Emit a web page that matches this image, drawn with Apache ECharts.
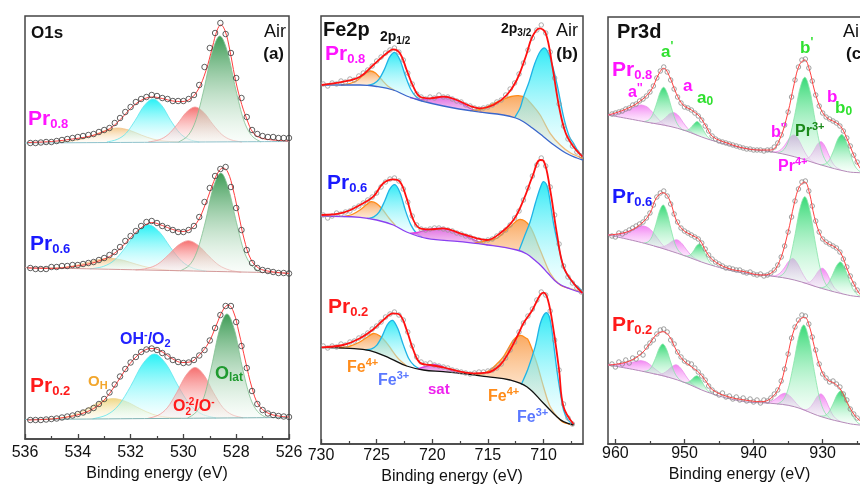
<!DOCTYPE html>
<html>
<head>
<meta charset="utf-8">
<title>XPS O1s / Fe2p / Pr3d</title>
<script src="https://cdn.jsdelivr.net/npm/echarts@6/dist/echarts.min.js"></script>
<style>
  html, body { margin: 0; padding: 0; background: #ffffff; }
  #chart { width: 860px; height: 484px; }
</style>
</head>
<body>
<div id="chart"></div>
<script>
// ---------------- Sample names ----------------
const samples = ['0.8', '0.6', '0.2'];

// ---------------- Tick values ----------------
const o1sMajorTicks = [526, 528, 530, 532, 534, 536];
const o1sMinorTicks = [527, 529, 531, 533, 535];
const fe2pMajorTicks = [710, 715, 720, 725, 730];
const fe2pMinorTicks = [707.5, 712.5, 717.5, 722.5, 727.5];
const pr3dMajorTicks = [930, 940, 950, 960];
const pr3dMinorTicks = [925, 935, 945, 955];

// ---------------- O1s (intensity, a.u., stacked offsets) ----------------
const o1sEnergy = [535.8,535.6,535.4,535.2,535.0,534.8,534.6,534.4,534.2,534.0,533.8,533.6,533.4,533.2,533.0,532.8,532.6,532.4,532.2,532.0,531.8,531.6,531.4,531.2,531.0,530.8,530.6,530.4,530.2,530.0,529.8,529.6,529.4,529.2,529.0,528.8,528.6,528.4,528.2,528.0,527.8,527.6,527.4,527.2,527.0,526.8,526.6,526.4,526.2,526.0];
const o1sPr08 = [296,296,296.5,297,297,298,299,300,301,302,303,304,305,307,309,311,316,321,327,332,337,340,342,344,343,341,340,338,338,338,340,344,354,372,391,406,416,405,386,361,341,322,309,305,303,302,302,301,301,301];
const o1sPr06 = [171,170,170,170,172,172,173,173,174,174,175,176,177,179,181,184,187,192,198,203,208,213,217,218,216,213,211,209,207,207,209,213,222,237,251,263,270,272,252,231,209,189,176,171,169,168,167,166,166,165.5];
const o1sPr02 = [19,19,19,19.5,20,20.5,21.5,22.5,23.5,25,26.5,28.5,31,35,40,46.5,54.5,62.5,70,76.5,82,87,89.5,90.5,89,86,82.5,79,77,76,76.5,79,83.5,89,98.5,111,124,133,133,117,93,71,48,35,29,25.5,24,23,22.5,22];

const o1sFitPr08 = [[535.9,296.5],[535,297.5],[534.2,300],[533.6,302.5],[533.1,306.5],[532.7,312],[532.3,322],[531.9,333],[531.5,340],[531.15,342],[530.8,340.5],[530.4,338],[530.05,337.5],[529.75,340],[529.45,349],[529.15,368],[528.9,392],[528.72,409],[528.58,414],[528.42,408],[528.25,390],[528.05,362],[527.85,340],[527.6,320],[527.35,306],[527.05,301],[526.6,299],[526.0,298]];
const o1sFitPr06 = [[535.9,171],[535,170.5],[534.2,172.5],[533.6,175],[533.1,179],[532.7,184],[532.3,193],[531.9,204],[531.5,213],[531.2,216.5],[530.8,213.5],[530.4,209.5],[530.05,207.5],[529.75,209.5],[529.45,218],[529.15,236],[528.9,254],[528.7,266],[528.5,271],[528.32,267],[528.12,250],[527.92,226],[527.7,200],[527.45,180],[527.15,171],[526.7,167.5],[526.0,165.5]];
const o1sFitPr02 = [[535.9,19],[535,20],[534.4,22],[533.9,25],[533.4,30.5],[533,39],[532.6,53],[532.2,69],[531.8,82],[531.45,89],[531.15,90.5],[530.8,87],[530.4,80],[530.05,76.5],[529.75,77],[529.4,84],[529.05,96],[528.75,114],[528.5,129],[528.3,134],[528.1,127],[527.9,107],[527.65,78],[527.4,51],[527.15,34],[526.8,26],[526.4,23],[526,22]];

const o1sBgPr08 = [[536,296],[526,297.5]];
const o1sBgPr06 = [[536,171.5],[526,166]];
const o1sBgPr02 = [[536,19.5],[526,21.5]];

const o1sPr08OH   = [[534.84,296.5],[534.3,297.9],[533.85,299.9],[533.4,304],[532.95,308.8],[532.5,311],[532.05,308.8],[531.6,304],[531.15,299.9],[530.7,297.9],[530.16,297]];
const o1sPr08OHO2 = [[532.9,297],[532.5,299.7],[532.16,306],[531.83,318.5],[531.49,333.2],[531.15,340],[530.81,333.2],[530.48,318.5],[530.14,306],[529.8,299.7],[529.4,297]];
const o1sPr08O2   = [[531.33,297],[530.92,299.2],[530.58,304.4],[530.24,314.5],[529.9,326.4],[529.56,332],[529.22,326.4],[528.88,314.5],[528.54,304.4],[528.2,299.2],[527.79,297]];
const o1sPr08Olat = [[530.18,297],[529.82,303.6],[529.52,319.3],[529.22,350],[528.92,386.1],[528.62,403],[528.32,386.1],[528.02,350],[527.72,319.3],[527.42,303.6],[527.06,297]];

const o1sPr06OH   = [[535.38,171],[534.78,171.2],[534.28,172.6],[533.78,175.5],[533.28,179],[532.78,180.7],[532.28,178.7],[531.78,174.7],[531.28,171.2],[530.78,169.3],[530.18,168.3]];
const o1sPr06OHO2 = [[533.54,170.1],[533.03,172.6],[532.6,179.1],[532.18,192.1],[531.76,207.2],[531.33,214.2],[530.9,206.8],[530.48,191.2],[530.06,177.7],[529.63,170.8],[529.12,167.7]];
const o1sPr06O2   = [[531.81,169],[531.36,170.7],[530.97,174.9],[530.59,183.5],[530.2,193.7],[529.81,198.3],[529.42,193.3],[529.03,182.7],[528.65,173.7],[528.26,169],[527.81,166.8]];
const o1sPr06Olat = [[530.11,168.2],[529.76,174.2],[529.47,188.6],[529.17,217],[528.88,250.4],[528.58,265.9],[528.29,250.1],[527.99,216.4],[527.7,187.6],[527.4,173],[527.05,166.6]];

const o1sPr02OH   = [[535.26,19.7],[534.66,21.1],[534.16,24.1],[533.66,30.1],[533.16,37.1],[532.66,40.4],[532.16,37.3],[531.66,30.5],[531.16,24.7],[530.66,21.9],[530.06,20.7]];
const o1sPr02OHO2 = [[533.44,20.1],[532.9,24.2],[532.45,33.8],[532.0,52.7],[531.55,74.7],[531.1,85],[530.65,74.8],[530.2,53],[529.75,34.3],[529.3,24.9],[528.76,21]];
const o1sPr02O2   = [[531.38,20.4],[530.96,23.7],[530.61,31.2],[530.26,46.1],[529.91,63.4],[529.56,71.5],[529.21,63.5],[528.86,46.3],[528.51,31.6],[528.16,24.3],[527.74,21.2]];
const o1sPr02Olat = [[529.85,20.8],[529.5,27.4],[529.21,42.7],[528.93,73],[528.64,108.5],[528.35,125],[528.06,108.6],[527.78,73.1],[527.49,43],[527.2,27.8],[526.85,21.3]];

// ---------------- Fe2p ----------------
const fe2pEnergy = [729.8,729.4,729.0,728.6,728.2,727.8,727.4,727.0,726.6,726.2,725.8,725.4,725.0,724.6,724.2,723.8,723.4,723.0,722.6,722.2,721.8,721.4,721.0,720.6,720.2,719.8,719.4,719.0,718.6,718.2,717.8,717.4,717.0,716.6,716.2,715.8,715.4,715.0,714.6,714.2,713.8,713.4,713.0,712.6,712.2,711.8,711.4,711.0,710.6,710.2,709.8,709.4,709.0,708.6,708.2,707.8,707.4,707.0,706.6];
const fe2pPr08 = [360,358,361,360,363,362,365,364,368,371,374,378,383,387,391,394,396,392,384,371,360,350,347,345,347,346,349,347,347,345,343,342,339,338,336,335,336,337,339,342,344,349,355,361,370,381,394,406,414,419,411,392,366,340,318,305,298,292,288];
const fe2pPr06 = [229,226,228,231,230,232,233,236,238,241,244,247,251,257,262,265,266,263,255,242,228,219,215,214,215,216,216,215,214,213,211,210,208,207,205,204,203,204,205,208,211,214,219,226,233,244,256,268,279,286,278,257,229,200,178,167,161,156,152];
const fe2pPr02 = [98,96,98,97,100,99,102,103,106,108,111,115,118,122,127,130,132,129,124,112,98,87,82,80,81,79,78,77,76,74,73,72,71,70,71,72,72,73,74,76,80,86,94,102,112,121,128,135,144,152,149,133,104,74,40,26,20];

const fe2pFitPr08 = [[729.95,359],[728,362.3],[726.5,367.3],[725.3,379],[724.1,390.7],[723.5,394.7],[722.9,390.7],[722.3,374],[721.7,357.3],[721.1,347.3],[720.2,345.7],[719,347.3],[717.8,344],[716.6,338],[715.7,335.7],[714.5,339],[713.3,349],[712.4,364],[711.6,387.3],[711,407.3],[710.35,415.7],[709.8,410.7],[709.2,377.3],[708.6,337.3],[708,310.7],[707.3,297.3],[706.5,287.3]];
const fe2pFitPr06 = [[729.95,229],[728,231.3],[726.5,239],[725.3,247.3],[724.4,260.7],[723.5,264.7],[722.9,262.3],[722.3,245.7],[721.7,224],[721.1,215.7],[720.2,214.7],[719,215.7],[717.5,210.7],[716,205.7],[715.1,204],[713.9,210.7],[712.7,224],[711.8,244],[711,267.3],[710.3,284],[710,283.3],[709.4,254],[708.8,210.7],[708.2,177.3],[707.3,160.7],[706.5,151]];
const fe2pFitPr02 = [[729.95,96.7],[728,99],[726.5,105.7],[725.3,114.7],[724.4,124],[723.5,130.7],[722.9,129],[722.3,114],[721.7,94],[721.1,81.3],[720.2,79],[719,76.7],[717.5,72.3],[716.3,70.7],[715.1,71.3],[713.9,79],[713,94],[712.3,109],[711.8,120.7],[711,134],[710.3,149],[710,151.3],[709.6,144],[709.1,114],[708.6,74],[708.2,37.3],[707.3,20]];

const fe2pBgPr08 = [[730,359],[726.5,359],[725,357.5],[723.5,354],[722.3,348],[721.1,343.5],[719,338],[716,332.3],[713.6,329],[712.5,326],[711.8,322.3],[711,316],[710,307.3],[709,298.5],[708,291],[707,286],[706.45,284]];
const fe2pBgPr06 = [[730,228],[726.5,226.7],[725,224],[723.5,219],[722.3,212],[720.5,205.7],[717.5,202.3],[715,199],[712.4,194],[711.5,190],[710.8,184],[710.2,178],[709.6,170.7],[708.7,160.7],[707.6,155],[706.45,151]];
const fe2pBgPr02 = [[730,96.7],[727.4,95.7],[725.6,93.3],[723.8,85.7],[722.3,78],[720.8,74],[719,72.3],[716.9,70],[715.1,67.3],[713,64],[711.5,57.3],[710,40.7],[708.8,27.3],[708.2,22.3],[707.3,19]];

const fe2pPr08Fe4a = [[728.2,359],[727.4,360.5],[726.7,364],[726.1,370],[725.6,373],[725.1,371],[724.6,365],[724.0,358],[723.4,353.6]];
const fe2pPr08Fe3a = [[725.82,358.7],[725.25,360.4],[724.78,364.8],[724.3,374.6],[723.83,386.8],[723.35,391.5],[722.88,383.5],[722.4,367.7],[721.92,354.5],[721.45,347.2],[720.88,342.9]];
const fe2pPr08Sat  = [[722.0,346.5],[721.2,344.5],[720.5,345],[719.7,346.5],[718.85,347.3],[718.0,345],[717.3,340.5],[716.5,335],[715.5,331.7]];
const fe2pPr08Fe4b = [[716.6,333.4],[715.6,334.5],[714.8,339],[713.6,344.7],[712.9,347.5],[712.25,348.3],[711.6,346],[711.0,339],[710.3,329],[709.4,310.7],[708.5,299],[707.6,291.3],[706.45,285.5]];
const fe2pPr08Fe3b = [[712.6,326.3],[712.1,336],[711.8,347],[711.3,362],[710.8,380],[710.3,392.5],[709.85,395.7],[709.4,386],[708.8,360.7],[708.2,327.3],[707.7,308],[707.3,300.7],[706.9,293],[706.45,287.3]];

const fe2pPr06Fe4a = [[727.9,227.5],[727.2,229.5],[726.5,234],[725.9,239.5],[725.5,242.3],[725.0,240.5],[724.5,235],[723.9,226],[723.3,218.3]];
const fe2pPr06Fe3a = [[725.82,225.5],[725.25,227.1],[724.78,231.8],[724.3,242.3],[723.83,254.7],[723.35,259.3],[722.88,250.8],[722.4,233.1],[721.92,219.1],[721.45,211.3],[720.88,206.6]];
const fe2pPr06Sat  = [[722.0,210.7],[721.3,211.5],[720.5,214],[719.7,215.5],[719.0,215.7],[718.2,213.5],[717.5,210.5],[716.6,206],[715.7,201.5],[715.0,199]];
const fe2pPr06Fe4b = [[716.2,200.9],[715.2,203],[714.2,205.7],[713.0,217.3],[712.1,224.7],[711.2,217.3],[710.3,194],[709.4,170.7],[708.5,159],[707.6,155.5],[706.45,151.5]];
const fe2pPr06Fe3b = [[712.2,193.5],[711.7,208],[711.2,222.3],[710.7,242],[710.3,256],[710.0,262.3],[709.6,255],[709.1,220.7],[708.6,195],[708.2,177.3],[707.7,166],[707.3,160.7],[706.9,157],[706.45,152.5]];

const fe2pPr02Fe4a = [[728.5,96.1],[727.5,97.5],[726.6,101.5],[725.9,106.5],[725.3,110.5],[724.7,108],[724.2,102.5],[723.7,95],[723.1,86],[722.3,78]];
const fe2pPr02Fe3a = [[726.02,94.3],[725.45,95.2],[724.98,98.8],[724.5,107.9],[724.03,119.4],[723.55,123.6],[723.08,114.9],[722.6,99.1],[722.13,85.7],[721.65,78.7],[721.08,74.8]];
const fe2pPr02Sat  = [[721.3,75.3],[720.6,77.5],[719.8,79.5],[719.0,77],[718.2,73],[717.6,70.8]];
const fe2pPr02Fe4b = [[716.6,69.6],[715.5,70.5],[714.8,74],[714.2,80],[713.6,87.3],[712.7,104],[712.1,108.5],[711.6,106],[711.3,102.3],[710.6,80.7],[710.0,57.3],[709.4,37.3],[708.5,24],[707.9,20.5],[707.3,19]];
const fe2pPr02Fe3b = [[712.0,59.5],[711.4,75],[710.75,97.3],[710.3,120],[709.85,130.7],[709.5,128],[709.25,114],[708.8,74],[708.5,52],[708.2,34],[707.8,24],[707.3,19]];

// ---------------- Pr3d ----------------
const pr3dEnergy = [960.5,960.0,959.5,959.0,958.5,958.0,957.5,957.0,956.5,956.0,955.5,955.0,954.5,954.0,953.5,953.0,952.5,952.0,951.5,951.0,950.5,950.0,949.5,949.0,948.5,948.0,947.5,947.0,946.5,946.0,945.5,945.0,944.5,944.0,943.5,943.0,942.5,942.0,941.5,941.0,940.5,940.0,939.5,939.0,938.5,938.0,937.5,937.0,936.5,936.0,935.5,935.0,934.5,934.0,933.5,933.0,932.5,932.0,931.5,931.0,930.5,930.0,929.5,929.0,928.5,928.0,927.5,927.0,926.5,926.0,925.5,925.0];
const pr3dPr08 = [330,331,332,333,335,336,339,340,343,345,348,352,358,366,373,377,372,364,355,347,341,337,336,334,331,328,324,318,313,308,305,303,302,301,300,299,298,297,296,295,295,294,294,294,293,294,294,297,301,309,319,332,347,364,377,384,385,376,363,349,338,331,327,325,323,321,318,313,306,298,289,282];
const pr3dPr06 = [208,207,211,210,212,214,216,218,220,222,226,231,239,247,251,253,248,240,230,222,216,213,211,209,207,205,201,195,189,185,182,180,178,176,176,175,174,174,172,171,172,170,169,170,168,169,171,174,179,187,198,212,227,243,255,262,263,253,238,223,212,205,202,200,198,196,192,185,177,168,160,154];
const pr3dPr02 = [80,77,82,80,84,81,86,85,91,89,97,101,104,110,114,115,112,104,100,92,87,83,81,80,76,72,68,64,58,54,51,49,51,47,48,45,47,44,46,43,45,42,44,41,44,43,46,50,54,63,75,90,106,117,124,129,128,120,107,94,80,70,66,62,63,60,57,50,44,35,30,26];

const pr3dFitPr08 = [[961,329],[958.2,335.7],[956.2,344],[954.8,354],[953.8,369],[953,375.7],[952.15,367.3],[951.2,350.7],[950.2,339],[949,334],[947.8,327.3],[946.85,317.3],[945.9,307.3],[943.7,300.7],[941.3,295.7],[938.9,294],[937.5,294],[936.26,304],[935.05,330.7],[934.1,360.7],[933.37,379],[932.6,384],[931.9,374],[931.2,354],[930.2,334],[929.28,325.7],[928.3,322.3],[927.35,317.3],[926.4,304],[925.4,287.3],[924.7,277.3],[923.5,266]];
const pr3dFitPr06 = [[961,209],[958.2,212.3],[956.2,220.7],[955,230.7],[954.1,245.7],[953.1,251.3],[952.15,244],[951.2,224],[950.2,214],[949,209],[947.8,204],[946.85,192.3],[945.9,184],[943.7,175.7],[941.3,172.3],[938.9,169],[937.5,170.7],[936.26,182.3],[935.05,210.7],[934.1,240.7],[933.37,257.3],[932.6,262],[931.9,250.7],[931.2,227.3],[930.2,207.3],[929.3,200.7],[928.3,197.3],[927.35,190.7],[926.4,174],[925.4,159],[924.7,150.7],[923.5,142]];
const pr3dFitPr02 = [[961,79],[958.2,82.3],[956.2,90.7],[955,100.7],[954.1,109],[953.1,112.3],[952.15,107.3],[951.2,94],[950.2,84],[949,77.3],[947.8,70.7],[946.85,62.3],[945.9,54],[943.7,47.3],[941.3,44],[938.9,42.3],[937.5,45.7],[936.26,57.3],[935.3,80.7],[934.3,110.7],[933.37,124],[932.6,126.7],[931.9,117.3],[931.2,97.3],[930.2,74],[929.3,64],[928.3,60.7],[927.35,54],[926.4,40.7],[925.4,29],[924.7,24],[923.5,17]];

const pr3dBgPr08 = [[961.07,329],[955.8,322.3],[951,315.7],[946.2,304],[941.3,295.7],[937.5,292.3],[934.1,287.3],[930.2,279],[926.4,272.3],[924.7,271.3],[923,270.5]];
const pr3dBgPr06 = [[961.07,209],[955.8,200.7],[951,190.7],[946.2,179],[941.3,170.7],[937.5,168],[934.1,164],[930.2,155.7],[926.4,149],[924.7,147.3],[923,146.5]];
const pr3dBgPr02 = [[961.07,79],[955.8,72.3],[951,64],[946.2,50.7],[941.3,42.3],[937.5,40.7],[934.1,37.3],[930.2,27.3],[926.4,20.7],[924.7,19],[923,18.2]];

const pr3dPr08A2 = [[961.07,329],[959.8,330.5],[958.6,333],[957.4,336.5],[956.7,338.5],[956.2,339],[955.4,337],[954.6,331.5],[953.6,323.5],[952.6,318]];
const pr3dPr08A1 = [[955.86,322.3],[955.2,323.9],[954.65,328.7],[954.1,339],[953.55,351.3],[953.0,356.7],[952.45,350],[951.9,336.6],[951.35,324.7],[950.8,317.6],[950.14,313.6]];
const pr3dPr08A  = [[954.85,320.8],[954.07,320.9],[953.42,322.6],[952.77,326.1],[952.12,330.3],[951.47,331.2],[950.82,327.9],[950.17,321.3],[949.52,315.4],[948.87,311.5],[948.09,308.6]];
const pr3dPr08A0 = [[950.27,314],[949.77,313.7],[949.35,314.6],[948.92,317.6],[948.5,321.1],[948.07,322.3],[947.64,319],[947.22,313.4],[946.79,308.3],[946.37,305.3],[945.87,303.4]];
const pr3dPr08B2 = [[937.35,292.1],[936.6,292.4],[935.98,294.7],[935.35,300.1],[934.73,306.5],[934.1,309],[933.48,304.3],[932.85,295.5],[932.23,287.9],[931.6,283.4],[930.85,280.4]];
const pr3dPr08B1 = [[936.45,291],[935.55,294.8],[934.8,305.9],[934.05,328.6],[933.3,355.1],[932.55,366.7],[931.8,351.9],[931.05,322.2],[930.3,296.6],[929.55,283],[928.65,276.2]];
const pr3dPr08B  = [[933.06,285.3],[932.4,285.2],[931.85,287.4],[931.3,293],[930.75,299.8],[930.2,302.3],[929.65,297.6],[929.1,288.8],[928.55,281],[928.0,276.6],[927.34,274]];
const pr3dPr08B0 = [[930.32,279.2],[929.6,280.2],[929.0,284.4],[928.4,293.7],[927.8,304.9],[927.2,309.5],[926.6,302.7],[926.0,289.9],[925.4,279],[924.8,273.5],[924.08,271]];

const pr3dPr06A2 = [[961.07,209],[959.8,209.5],[958.6,211.5],[957.4,215],[956.6,217.5],[955.9,218],[955.1,215.5],[954.3,209.5],[953.4,201],[952.4,193.6]];
const pr3dPr06A1 = [[955.91,200.9],[955.25,202.3],[954.7,207.6],[954.15,219.3],[953.6,233.1],[953.05,239],[952.5,230.9],[951.95,214.7],[951.4,200.7],[950.85,193.1],[950.19,188.7]];
const pr3dPr06A  = [[954.38,197.7],[953.6,196.9],[952.95,197.6],[952.3,200.1],[951.65,203.3],[951.0,204],[950.35,200.3],[949.7,194.2],[949.05,188.8],[948.4,185.2],[947.62,182.5]];
const pr3dPr06A0 = [[950.0,188.2],[949.5,188.1],[949.08,189.6],[948.65,193.5],[948.23,198.3],[947.8,200],[947.37,196.2],[946.95,189.4],[946.52,183.4],[946.1,179.9],[945.6,178]];
const pr3dPr06B2 = [[937.55,168.1],[936.8,168.4],[936.18,170.8],[935.55,176.1],[934.93,182.5],[934.3,185.5],[933.68,180.9],[933.05,172.4],[932.43,164.9],[931.8,160.4],[931.05,157.5]];
const pr3dPr06B1 = [[936.45,166.8],[935.55,171.2],[934.8,183],[934.05,207.2],[933.3,235.1],[932.55,247.3],[931.8,231.9],[931.05,200.8],[930.3,174.1],[929.55,159.9],[928.65,153]];
const pr3dPr06B  = [[932.86,161.3],[932.2,161.2],[931.65,163],[931.1,167.8],[930.55,173.6],[930.0,175.7],[929.45,171.6],[928.9,163.6],[928.35,156.7],[927.8,152.8],[927.14,150.3]];
const pr3dPr06B0 = [[930.52,156.3],[929.8,156.9],[929.2,160.5],[928.6,168.5],[928.0,178],[927.4,182],[926.8,175.9],[926.2,164.4],[925.6,154.8],[925.0,149.5],[924.28,147.1]];

const pr3dPr02A2 = [[961.07,79],[959.8,79.6],[958.6,80.5],[957.4,82],[956.7,83],[956.2,83.3],[955.4,81.5],[954.6,77],[953.6,71.5],[952.4,66.4]];
const pr3dPr02A1 = [[955.96,72.6],[955.3,73.4],[954.75,77.3],[954.2,85.7],[953.65,95.8],[953.1,100],[952.55,93.9],[952.0,81.9],[951.45,71.6],[950.9,65.7],[950.24,62]];
const pr3dPr02A  = [[954.48,70],[953.7,69.6],[953.05,70.7],[952.4,73.8],[951.75,77.7],[951.1,79],[950.45,74.9],[949.8,68.1],[949.15,62],[948.5,58],[947.72,54.9]];
const pr3dPr02A0 = [[950.3,62.1],[949.8,61.5],[949.38,62.1],[948.95,64.4],[948.53,67.3],[948.1,68],[947.67,64.9],[947.25,59.6],[946.82,54.9],[946.4,52],[945.9,50.2]];
const pr3dPr02B2 = [[938.65,41.2],[937.9,41.7],[937.28,43],[936.65,45.9],[936.03,49.4],[935.4,50.7],[934.78,48.2],[934.15,43.4],[933.53,38.3],[932.9,35],[932.15,32.3]];
const pr3dPr02B1 = [[936.6,39.8],[935.7,44.2],[934.95,56.1],[934.2,80.2],[933.45,107.3],[932.7,119],[931.95,103.5],[931.2,72.6],[930.45,45.9],[929.7,31.7],[928.8,24.8]];
const pr3dPr02B  = [[933.06,34.6],[932.4,34.3],[931.85,36.3],[931.3,41.5],[930.75,47.8],[930.2,50],[929.65,45.4],[929.1,36.8],[928.55,29.2],[928.0,24.9],[927.34,22.3]];
const pr3dPr02B0 = [[930.42,28],[929.7,28.3],[929.1,31.9],[928.5,39.9],[927.9,49.4],[927.3,53.3],[926.7,47.3],[926.1,35.9],[925.5,26.3],[924.9,21.1],[924.18,18.8]];

// ---------------- Styling ----------------
const FONT = "'Liberation Sans', Arial, Helvetica, sans-serif";
const MAG = '#ff14ff', BLUE = '#1a1aff', RED = '#ff1a1a';
const LIME = '#2fe02f', DKGREEN = '#1a8a1a';

const FILLS = {
  oh:     { top: 'rgba(243,192,122,0.85)', bottom: 'rgba(255,248,235,0.35)', stroke: '#f1c489', lw: 0.8 },
  ohY:    { top: 'rgba(236,208,112,0.85)', bottom: 'rgba(255,250,230,0.35)', stroke: '#eed38a', lw: 0.8 },
  oCyan:  { top: 'rgba(20,240,245,0.92)', bottom: 'rgba(235,255,255,0.35)', stroke: '#5fe4ec', lw: 0.8 },
  oRed:   { top: 'rgba(244,92,92,0.88)', bottom: 'rgba(255,235,235,0.35)', stroke: '#f29a9a', lw: 0.8 },
  oGreen: { top: 'rgba(46,148,72,0.92)', bottom: 'rgba(240,250,242,0.35)', stroke: '#7fbf8f', lw: 0.8 },
  fOrange:{ top: 'rgba(249,160,80,0.9)', bottom: 'rgba(255,240,224,0.4)', stroke: '#ff8c1a', lw: 1.3 },
  fCyan:  { top: 'rgba(30,232,245,0.92)', bottom: 'rgba(232,255,255,0.35)', stroke: '#1eb4e6', lw: 1.3 },
  fMag:   { top: 'rgba(222,96,222,0.92)', bottom: 'rgba(240,185,240,0.7)', stroke: '#e040e0', lw: 1.3 },
  pGreen: { top: 'rgba(34,214,104,0.9)', bottom: 'rgba(235,255,242,0.3)', stroke: '#86e4a8', lw: 0.8 },
  pMag:   { top: 'rgba(240,112,240,0.85)', bottom: 'rgba(255,232,255,0.35)', stroke: '#eb90eb', lw: 0.8 }
};

const zip = (xs, ys) => ys.map((y, i) => [xs[i], y]);

// ---------------- Spectra per panel ----------------
const o1sSpectra = [
  { values: o1sPr08, fit: o1sFitPr08, bg: o1sBgPr08, bgColor: '#8fc2cc',
    comps: [[o1sPr08OH, 'oh'], [o1sPr08OHO2, 'oCyan'], [o1sPr08O2, 'oRed'], [o1sPr08Olat, 'oGreen']] },
  { values: o1sPr06, fit: o1sFitPr06, bg: o1sBgPr06, bgColor: '#d49a9a',
    comps: [[o1sPr06OH, 'oh'], [o1sPr06OHO2, 'oCyan'], [o1sPr06O2, 'oRed'], [o1sPr06Olat, 'oGreen']] },
  { values: o1sPr02, fit: o1sFitPr02, bg: o1sBgPr02, bgColor: '#7fb2b2',
    comps: [[o1sPr02OH, 'ohY'], [o1sPr02OHO2, 'oCyan'], [o1sPr02O2, 'oRed'], [o1sPr02Olat, 'oGreen']] }
];
const fe2pSpectra = [
  { values: fe2pPr08, fit: fe2pFitPr08, bg: fe2pBgPr08, bgColor: '#3a66cc',
    comps: [[fe2pPr08Fe4a, 'fOrange'], [fe2pPr08Fe3a, 'fCyan'], [fe2pPr08Sat, 'fMag'], [fe2pPr08Fe4b, 'fOrange'], [fe2pPr08Fe3b, 'fCyan']] },
  { values: fe2pPr06, fit: fe2pFitPr06, bg: fe2pBgPr06, bgColor: '#8a40f0',
    comps: [[fe2pPr06Fe4a, 'fOrange'], [fe2pPr06Fe3a, 'fCyan'], [fe2pPr06Sat, 'fMag'], [fe2pPr06Fe4b, 'fOrange'], [fe2pPr06Fe3b, 'fCyan']] },
  { values: fe2pPr02, fit: fe2pFitPr02, bg: fe2pBgPr02, bgColor: '#111111',
    comps: [[fe2pPr02Fe4a, 'fOrange'], [fe2pPr02Fe3a, 'fCyan'], [fe2pPr02Sat, 'fMag'], [fe2pPr02Fe4b, 'fOrange'], [fe2pPr02Fe3b, 'fCyan']] }
];
const pr3dSpectra = [
  { values: pr3dPr08, fit: pr3dFitPr08, bg: pr3dBgPr08, bgColor: '#b48ab8',
    comps: [[pr3dPr08A2, 'pMag'], [pr3dPr08A, 'pMag'], [pr3dPr08B2, 'pMag'], [pr3dPr08B, 'pMag'],
            [pr3dPr08A1, 'pGreen'], [pr3dPr08A0, 'pGreen'], [pr3dPr08B1, 'pGreen'], [pr3dPr08B0, 'pGreen']] },
  { values: pr3dPr06, fit: pr3dFitPr06, bg: pr3dBgPr06, bgColor: '#b48ab8',
    comps: [[pr3dPr06A2, 'pMag'], [pr3dPr06A, 'pMag'], [pr3dPr06B2, 'pMag'], [pr3dPr06B, 'pMag'],
            [pr3dPr06A1, 'pGreen'], [pr3dPr06A0, 'pGreen'], [pr3dPr06B1, 'pGreen'], [pr3dPr06B0, 'pGreen']] },
  { values: pr3dPr02, fit: pr3dFitPr02, bg: pr3dBgPr02, bgColor: '#b48ab8',
    comps: [[pr3dPr02A2, 'pMag'], [pr3dPr02A, 'pMag'], [pr3dPr02B2, 'pMag'], [pr3dPr02B, 'pMag'],
            [pr3dPr02A1, 'pGreen'], [pr3dPr02A0, 'pGreen'], [pr3dPr02B1, 'pGreen'], [pr3dPr02B0, 'pGreen']] }
];

// Catmull-Rom spline through pixel points, as SVG path commands
function splinePath(pts) {
  let d = 'M' + pts[0][0] + ' ' + pts[0][1];
  for (let i = 0; i < pts.length - 1; i++) {
    const p0 = pts[i - 1] || pts[i], p1 = pts[i], p2 = pts[i + 1], p3 = pts[i + 2] || pts[i + 1];
    const c1x = p1[0] + (p2[0] - p0[0]) / 6, c1y = p1[1] + (p2[1] - p0[1]) / 6;
    const c2x = p2[0] - (p3[0] - p1[0]) / 6, c2y = p2[1] - (p3[1] - p1[1]) / 6;
    d += ' C' + c1x + ' ' + c1y + ' ' + c2x + ' ' + c2y + ' ' + p2[0] + ' ' + p2[1];
  }
  return d;
}

// Fitted peak components: area between the peak curve and the spectrum background
function componentSeries(ax, spectra) {
  const comps = [];
  spectra.forEach(s => s.comps.forEach(([pts, key]) => comps.push({ pts, bg: s.bg, look: FILLS[key] })));
  return {
    type: 'custom', xAxisIndex: ax, yAxisIndex: ax / 2, z: 2, clip: true, silent: true,
    data: comps.map(c => c.pts[0]),
    renderItem: (params, api) => {
      const c = comps[params.dataIndex];
      const top = c.pts.map(p => api.coord(p));
      const eHigh = c.pts[0][0], eLow = c.pts[c.pts.length - 1][0];
      const under = c.bg.filter(p => p[0] < eHigh && p[0] > eLow).map(p => api.coord(p)).reverse();
      const curve = splinePath(top);
      let area = curve;
      under.forEach(p => { area += ' L' + p[0] + ' ' + p[1]; });
      area += ' Z';
      return {
        type: 'group',
        children: [
          { type: 'path', shape: { pathData: area }, style: {
              fill: new echarts.graphic.LinearGradient(0, 0, 0, 1, [
                { offset: 0, color: c.look.top }, { offset: 1, color: c.look.bottom }]),
              stroke: 'none' } },
          { type: 'path', shape: { pathData: curve }, style: {
              fill: 'none', stroke: c.look.stroke, lineWidth: c.look.lw } }
        ]
      };
    }
  };
}

function spectrumSeries(ax, energy, spectra, look) {
  const out = [componentSeries(ax, spectra)];
  spectra.forEach(s => {
    out.push({ type: 'line', xAxisIndex: ax, yAxisIndex: ax / 2, data: s.bg, smooth: 0.4, showSymbol: false,
      silent: true, z: 3, lineStyle: { color: s.bgColor, width: look.bgWidth } });
    out.push({ type: 'scatter', xAxisIndex: ax, yAxisIndex: ax / 2, data: zip(energy, s.values), silent: true,
      symbol: 'circle', symbolSize: look.dotSize, z: look.dotZ,
      itemStyle: { color: 'rgba(255,255,255,0)', borderColor: look.dotColor, borderWidth: look.dotWidth } });
    out.push({ type: 'line', xAxisIndex: ax, yAxisIndex: ax / 2, data: s.fit, smooth: 0.4, showSymbol: false,
      silent: true, z: look.fitZ, lineStyle: { color: look.fitColor, width: look.fitWidth } });
  });
  return out;
}

function xAxesFor(grid, min, max, major, minor, labelMargin, nameGap) {
  return [{
    type: 'value', gridIndex: grid, min, max, inverse: true, position: 'bottom',
    axisLine: { show: true, onZero: false, lineStyle: { color: '#444', width: 1.5 } },
    axisTick: { show: true, inside: true, length: 5, customValues: major, lineStyle: { color: '#444', width: 1.3 } },
    axisLabel: { show: true, customValues: major, margin: labelMargin, fontSize: 16, color: '#111', fontFamily: FONT },
    splitLine: { show: false },
    name: 'Binding energy (eV)', nameLocation: 'middle', nameGap,
    nameTextStyle: { fontSize: 16, color: '#111', fontFamily: FONT }
  }, {
    type: 'value', gridIndex: grid, min, max, inverse: true, position: 'bottom',
    axisLine: { show: false, onZero: false },
    axisTick: { show: true, inside: true, length: 3, customValues: minor, lineStyle: { color: '#444', width: 1.2 } },
    axisLabel: { show: false }, splitLine: { show: false }
  }];
}

// ---------------- Text annotations ----------------
const sub = (size, shift) => ({ fontSize: size, fontWeight: 'bold', fontFamily: FONT, padding: [shift * 2, 0, 0, 0] });
const sup = (size, shift) => ({ fontSize: size, fontWeight: 'bold', fontFamily: FONT, padding: [0, 0, shift * 2, 0] });

function text(x, y, str, o) {
  o = o || {};
  return { type: 'text', x, y, z: 100, silent: true, style: {
    text: str, fill: o.color || '#111', fontFamily: FONT, fontSize: o.size || 16,
    fontWeight: o.weight || 'bold', align: o.align || 'left', verticalAlign: 'middle', rich: o.rich || {} } };
}
const prRich = { s: sub(13, 5) };
const prText = (x, y, name, color) => text(x, y, 'Pr{s|' + name + '}', { size: 21, color, rich: prRich });

const labels = [
  // O1s
  text(31, 33, 'O1s', { size: 17 }),
  text(286, 32, 'Air', { size: 18, weight: 'normal', align: 'right' }),
  text(284, 54, '(a)', { size: 17, align: 'right' }),
  prText(28, 119, samples[0], MAG),
  prText(30, 244, samples[1], BLUE),
  prText(30, 386, samples[2], RED),
  text(88, 382, 'O{s|H}', { size: 15, color: '#f2a62c', rich: { s: sub(11, 4) } }),
  text(120, 340, 'OH{p|-}/O{s|2}', { size: 16, color: '#2222ff', rich: { p: sup(11, 5), s: sub(11, 4) } }),
  text(173, 407, 'O{s|2}{p|-2}/O{p|-}', { size: 16, color: RED,
    rich: { s: { fontSize: 10, fontWeight: 'bold', fontFamily: FONT, padding: [10, -5.6, 0, 0] }, p: sup(10, 5) } }),
  text(215, 374, 'O{s|lat}', { size: 18, color: '#1f9a2f', rich: { s: sub(12, 4) } }),
  // Fe2p
  text(323, 30, 'Fe2p', { size: 20 }),
  text(380, 37, '2p{s|1/2}', { size: 14, rich: { s: sub(10, 4) } }),
  text(501, 29, '2p{s|3/2}', { size: 14, rich: { s: sub(10, 4) } }),
  text(578, 31, 'Air', { size: 18, weight: 'normal', align: 'right' }),
  text(578, 54, '(b)', { size: 17, align: 'right' }),
  prText(325, 54, samples[0], MAG),
  prText(327, 183, samples[1], BLUE),
  prText(328, 307, samples[2], RED),
  text(347, 368, 'Fe{p|4+}', { size: 16, color: '#ff8c1a', rich: { p: sup(11, 5) } }),
  text(378, 381, 'Fe{p|3+}', { size: 16, color: '#5a78ff', rich: { p: sup(11, 5) } }),
  text(428, 390, 'sat', { size: 15, color: '#ee22ee' }),
  text(488, 397, 'Fe{p|4+}', { size: 16, color: '#ff8c1a', rich: { p: sup(11, 5) } }),
  text(517, 418, 'Fe{p|3+}', { size: 16, color: '#5a78ff', rich: { p: sup(11, 5) } }),
  // Pr3d
  text(617, 32, 'Pr3d', { size: 20 }),
  text(843, 32, 'Air', { size: 18, weight: 'normal' }),
  text(846, 54, '(c)', { size: 17 }),
  prText(612, 70, samples[0], MAG),
  prText(612, 197, samples[1], BLUE),
  prText(612, 325, samples[2], RED),
  text(661, 52, "a{p|'}", { size: 17, color: LIME, rich: { p: sup(12, 5) } }),
  text(628, 93, "a{p|''}", { size: 16, color: MAG, rich: { p: sup(12, 4) } }),
  text(683, 86, 'a', { size: 17, color: MAG }),
  text(697, 98, 'a{s|0}', { size: 17, color: LIME, rich: { s: sub(12, 4) } }),
  text(800, 48, "b{p|'}", { size: 17, color: LIME, rich: { p: sup(12, 5) } }),
  text(827, 97, 'b', { size: 17, color: MAG }),
  text(835, 108, 'b{s|0}', { size: 17, color: LIME, rich: { s: sub(12, 4) } }),
  text(771, 133, "b{p|''}", { size: 16, color: MAG, rich: { p: sup(12, 4) } }),
  text(795, 132, 'Pr{p|3+}', { size: 16, color: DKGREEN, rich: { p: sup(11, 5) } }),
  text(778, 167, 'Pr{p|4+}', { size: 16, color: MAG, rich: { p: sup(11, 5) } })
];

// ---------------- Chart ----------------
const chart = echarts.init(document.getElementById('chart'), null, { renderer: 'canvas' });

const gridStyle = { show: true, borderColor: '#444', borderWidth: 1.5, backgroundColor: 'transparent', containLabel: false, outerBoundsMode: 'none' };

const option = {
  animation: false,
  backgroundColor: '#ffffff',
  grid: [
    Object.assign({ left: 25, top: 16, width: 264, height: 423 }, gridStyle),
    Object.assign({ left: 321, top: 16, width: 262, height: 428 }, gridStyle),
    Object.assign({ left: 608, top: 17, width: 263, height: 427 }, gridStyle)
  ],
  xAxis: [].concat(
    xAxesFor(0, 526, 536, o1sMajorTicks, o1sMinorTicks, 6, 25),
    xAxesFor(1, 706.45, 730, fe2pMajorTicks, fe2pMinorTicks, 4, 20),
    xAxesFor(2, 923, 961.07, pr3dMajorTicks, pr3dMinorTicks, 2, 20)
  ),
  yAxis: [
    { type: 'value', gridIndex: 0, min: 0, max: 423, show: false },
    { type: 'value', gridIndex: 1, min: 0, max: 428, show: false },
    { type: 'value', gridIndex: 2, min: 0, max: 427, show: false }
  ],
  series: [].concat(
    spectrumSeries(0, o1sEnergy, o1sSpectra,
      { bgWidth: 1, dotSize: 5.5, dotColor: '#3a3a3a', dotWidth: 1, dotZ: 5, fitColor: '#ff4040', fitWidth: 1, fitZ: 4 }),
    spectrumSeries(2, fe2pEnergy, fe2pSpectra,
      { bgWidth: 1.3, dotSize: 4.5, dotColor: '#9a9a9a', dotWidth: 1, dotZ: 4, fitColor: '#ff1010', fitWidth: 1.8, fitZ: 5 }),
    spectrumSeries(4, pr3dEnergy, pr3dSpectra,
      { bgWidth: 1, dotSize: 4.5, dotColor: '#8a8a8a', dotWidth: 1, dotZ: 4, fitColor: '#ff4040', fitWidth: 1, fitZ: 5 })
  ),
  graphic: labels
};

chart.setOption(option);
</script>
</body>
</html>
